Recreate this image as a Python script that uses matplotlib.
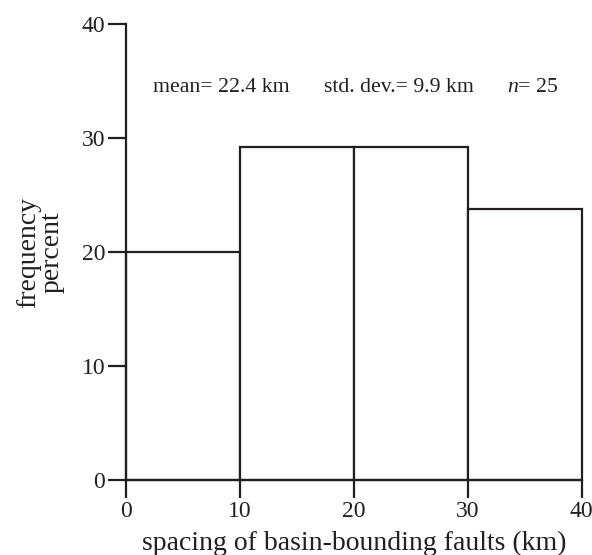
import matplotlib.pyplot as plt

bin_edges = [0, 10, 20, 30, 40]
percent = [20.0, 29.2, 29.2, 23.8]
y_ticks = [0, 10, 20, 30, 40]

plt.rcParams['font.family'] = ['Liberation Serif', 'DejaVu Serif']
plt.rcParams['mathtext.fontset'] = 'custom'
plt.rcParams['mathtext.it'] = 'Liberation Serif:italic'
plt.rcParams['mathtext.rm'] = 'Liberation Serif'

ink = '#231f20'

fig = plt.figure(figsize=(5.92, 5.55), dpi=100)
ax = fig.add_axes([126 / 592, 1 - 480.3 / 555, (581.7 - 126) / 592, (480.3 - 24) / 555])

widths = [b - a for a, b in zip(bin_edges[:-1], bin_edges[1:])]
bars = ax.bar(bin_edges[:-1], percent, width=widths, align='edge',
              color='white', edgecolor=ink, linewidth=1.6, zorder=2)
for b in bars:
    b.set_clip_on(False)

ax.set_xlim(0, 40)
ax.set_ylim(0, 40)
ax.set_xticks(bin_edges)
ax.set_yticks(y_ticks)

for s in ['top', 'right']:
    ax.spines[s].set_visible(False)
for s in ['left', 'bottom']:
    ax.spines[s].set_linewidth(1.6)
    ax.spines[s].set_color(ink)
    ax.spines[s].set_zorder(3)

ax.tick_params(direction='out', length=13, width=1.6, color=ink,
               labelsize=17, labelcolor=ink, pad=2)

ax.set_xlabel('spacing of basin-bounding faults (km)', fontsize=20, color=ink, labelpad=6)
ax.set_ylabel('frequency\npercent', fontsize=20, color=ink, labelpad=12, linespacing=0.95)

ax.text(8.4, 34.4, 'mean= 22.4 km', ha='center', va='center', fontsize=15.7, color=ink)
ax.text(24.0, 34.4, 'std. dev.= 9.9 km', ha='center', va='center', fontsize=15.7, color=ink)
ax.text(35.7, 34.4, r'$n$= 25', ha='center', va='center', fontsize=15.7, color=ink)

fig.savefig('out.png', dpi=100)
